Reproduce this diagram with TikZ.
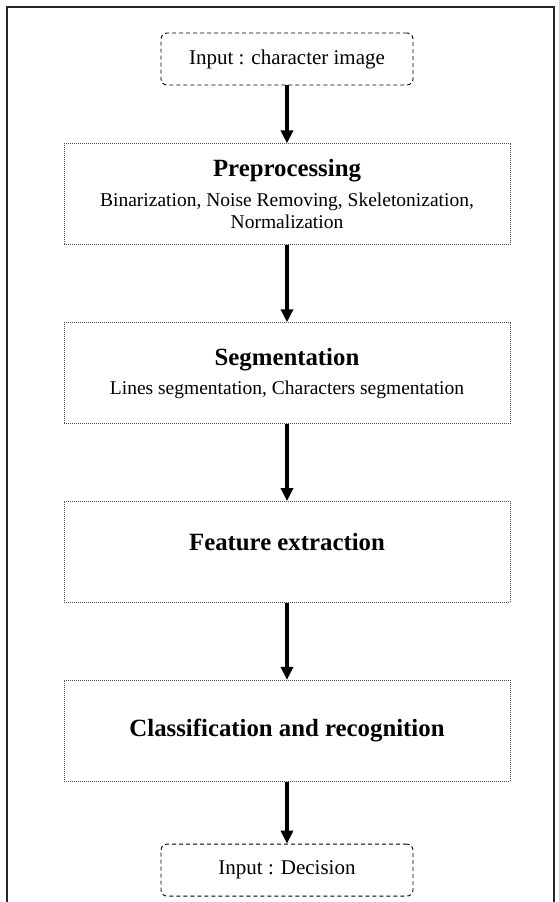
\documentclass[tikz,border=0pt]{standalone}
\usepackage{fontspec}
\setmainfont{Liberation Serif}
\usetikzlibrary{positioning,arrows.meta}
\newcommand{\stagetitle}[1]{{\fontsize{24.8}{26}\selectfont\bfseries #1}}

\begin{document}
\begin{tikzpicture}[x=1pt,y=-1pt]
\tikzstyle{terminal}=[draw,rounded corners=6pt,dash pattern=on 4pt off 3pt,line width=0.9pt,minimum width=252pt,minimum height=52pt,inner sep=0pt,font=\fontsize{21}{22}\selectfont]
\tikzstyle{stage}=[draw=black!70,dash pattern=on 1pt off 1pt,line width=0.8pt,minimum width=446pt,minimum height=101pt,inner sep=0pt,align=center,font=\fontsize{19.5}{22}\selectfont]
\tikzstyle{single}=[text height=17pt,text depth=20pt]
\tikzstyle{flow}=[line width=4pt,-{Triangle[width=12pt,length=13pt]}]
\useasboundingbox (0,0) rectangle (558,902);
\draw[line width=1.2pt,black!85] (7,902) -- (7,7) -- (554,7) -- (554,902);
\node[terminal] (in) at (287,59) {Input : character image};
\node[stage,below=58pt of in] (pre) {\stagetitle{Preprocessing}\\[8pt]Binarization, Noise Removing, Skeletonization,\\Normalization};
\node[stage,below=77pt of pre] (seg) {\stagetitle{Segmentation}\\[7pt]Lines segmentation, Characters segmentation};
\node[stage,single,below=77pt of seg] (feat) {\stagetitle{Feature extraction}};
\node[stage,below=77pt of feat] (cls) {\stagetitle{Classification and recognition}};
\node[terminal,below=62pt of cls] (out) {Input : Decision};
\draw[flow] (in) -- (pre);
\draw[flow] (pre) -- (seg);
\draw[flow] (seg) -- (feat);
\draw[flow] (feat) -- (cls);
\draw[flow] (cls) -- (out);
\end{tikzpicture}
\end{document}
